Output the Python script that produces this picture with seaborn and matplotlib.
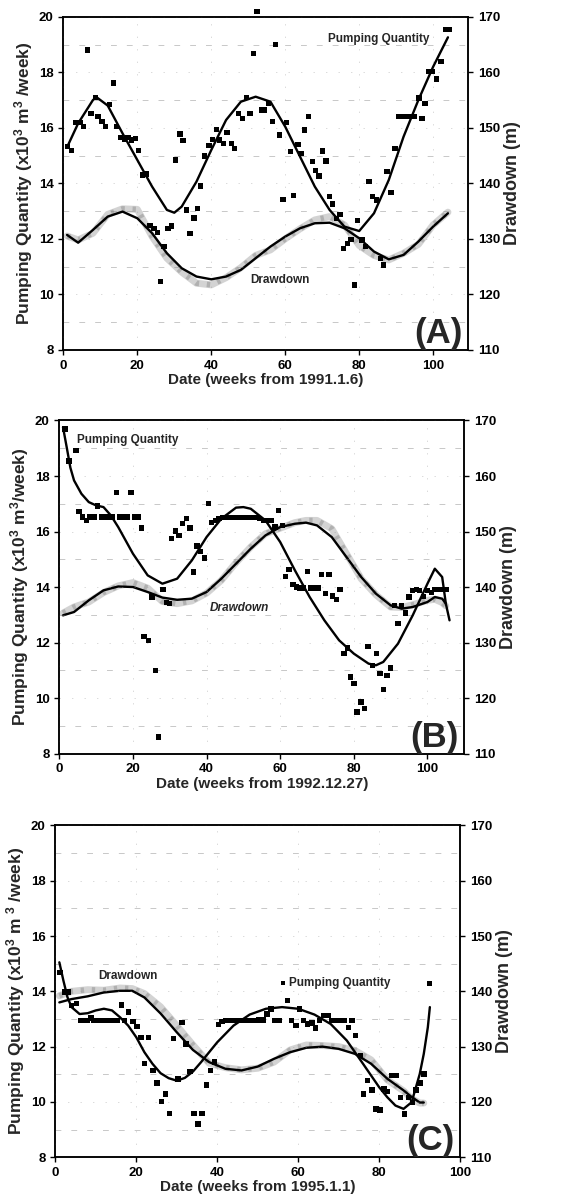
import numpy as np
import pandas as pd
import matplotlib
matplotlib.use("Agg")
import matplotlib.pyplot as plt
import seaborn as sns

sns.set_style("ticks")
plt.rcParams['font.family'] = ['Liberation Sans', 'DejaVu Sans']
plt.rcParams['font.weight'] = 'bold'
plt.rcParams['axes.labelweight'] = 'bold'
plt.rcParams['mathtext.fontset'] = 'custom'
plt.rcParams['mathtext.rm'] = 'Liberation Sans:bold'
plt.rcParams['mathtext.it'] = 'Liberation Sans:bold'
plt.rcParams['mathtext.bf'] = 'Liberation Sans:bold'

# ---------------- Panel A data ----------------
a_weeks = [1.2, 2.2, 3.4, 4.5, 5.4, 6.5, 7.5, 8.7, 9.4, 10.4, 11.4, 12.4, 13.5, 14.4, 15.5, 16.5, 17.5, 18.4, 19.5, 20.4,
           21.4, 22.5, 23.4, 24.5, 25.4, 26.3, 27.2, 28.3, 29.3, 30.4, 31.5, 32.4, 33.3, 34.2, 35.3, 36.3, 37.1, 38.2, 39.4, 40.3,
           41.4, 42.3, 43.3, 44.3, 45.4, 46.3, 47.4, 48.4, 49.5, 50.5, 51.5, 52.4, 53.5, 54.4, 55.5, 56.5, 57.4, 58.5, 59.4, 60.4,
           61.4, 62.3, 63.4, 64.3, 65.2, 66.3, 67.3, 68.2, 69.1, 70.0, 71.0, 71.9, 72.8, 73.9, 74.8, 75.8, 76.9, 77.8, 78.7, 79.6,
           80.8, 81.7, 82.6, 83.6, 84.7, 85.7, 86.5, 87.5, 88.6, 89.7, 90.6, 91.7, 92.8, 93.7, 94.9, 96.2, 97.0, 97.8, 98.9, 99.8,
           100.9, 102.1, 103.4, 104.3]
a_pump = [15.32, 15.18, 16.18, 16.18, 16.04, 18.8, 16.52, 17.1, 16.4, 16.22, 16.04, 16.83, 17.62, 16.04, 15.64, 15.58, 15.64, 15.56, 15.62, 15.18,
          14.3, 14.34, 12.48, 12.37, 12.22, 10.46, 11.72, 12.38, 12.46, 14.84, 15.78, 15.54, 13.04, 12.2, 12.75, 13.1, 13.9, 14.98, 15.36, 15.58,
          15.94, 15.56, 15.44, 15.82, 15.44, 15.26, 16.52, 16.34, 17.1, 16.52, 18.68, 20.18, 16.64, 16.64, 16.88, 16.22, 19.0, 15.74, 13.42, 16.2,
          15.14, 13.56, 15.4, 15.08, 15.92, 16.4, 14.78, 14.46, 14.26, 15.16, 14.8, 13.52, 13.26, 12.74, 12.88, 11.64, 11.84, 11.98, 10.34, 12.66,
          11.96, 11.72, 14.06, 13.52, 13.4, 11.3, 11.06, 14.42, 13.66, 15.26, 16.4, 16.4, 16.4, 16.4, 16.4, 17.08, 16.34, 16.88, 18.02, 18.02,
          17.76, 18.38, 19.54, 19.54]
a_fit_x = [1, 4, 8, 9, 12, 16, 20, 24, 28, 30, 32, 36, 40, 44, 48, 52, 56, 60, 64, 68, 72, 76, 80, 84, 88, 92, 96, 100, 104]
a_fit_pump = [15.3, 16.16, 17.0, 17.1, 16.8, 15.8, 14.84, 13.88, 13.04, 12.94, 13.16, 14.06, 15.2, 16.28, 16.94, 17.12, 16.94, 16.04,
              14.96, 13.88, 13.04, 12.44, 12.28, 12.92, 14.12, 15.68, 17.0, 18.2, 19.26]
a_dd_x = [1, 4, 8, 12, 16, 20, 24, 28, 32, 36, 40, 44, 48, 52, 56, 60, 64, 68, 72, 76, 80, 84, 88, 92, 96, 100, 104]
a_dd_fit = [130.7, 129.3, 131.6, 134.0, 134.9, 133.7, 131.0, 127.4, 124.7, 123.2, 122.7, 123.2, 124.4, 126.5, 128.6, 130.4,
            131.9, 132.8, 132.9, 131.9, 130.1, 127.7, 126.3, 127.1, 129.5, 132.2, 134.6]
a_dd_obs = [130.5, 129.8, 131.0, 134.4, 135.4, 135.3, 130.4, 126.5, 124.0, 122.0, 121.7, 123.0, 124.8, 127.0, 128.0, 130.0,
            131.8, 133.4, 134.0, 132.5, 128.8, 127.0, 126.2, 127.4, 129.0, 132.5, 134.8]

# ---------------- Panel B data ----------------
b_weeks = [1.5, 2.6, 4.5, 5.3, 6.3, 7.4, 8.3, 9.4, 10.4, 11.5, 12.5, 13.5, 14.5, 15.5, 16.5, 17.5, 18.5, 19.5, 20.5, 21.4,
           22.4, 23.0, 24.2, 25.2, 26.2, 26.9, 28.2, 29.1, 30.0, 30.5, 31.5, 32.5, 33.5, 34.5, 35.5, 36.4, 37.4, 38.4, 39.5, 40.5,
           41.4, 42.4, 43.4, 44.4, 45.4, 46.4, 47.4, 48.4, 49.4, 50.4, 51.4, 52.4, 53.4, 54.4, 55.4, 56.6, 57.5, 58.6, 59.5, 60.6,
           61.5, 62.4, 63.5, 64.4, 65.3, 66.4, 67.4, 68.4, 69.4, 70.3, 71.2, 72.3, 73.3, 74.2, 75.3, 76.2, 77.3, 78.2, 79.1, 80.0,
           80.9, 81.9, 82.9, 83.9, 85.1, 86.2, 87.1, 88.0, 89.0, 90.0, 91.0, 92.0, 93.0, 94.1, 95.0, 96.0, 97.1, 97.9, 99.0, 100.0,
           101.1, 102.0, 103.0, 104.1, 105.0]
b_pump = [19.7, 18.54, 18.92, 16.72, 16.52, 16.4, 16.52, 16.52, 16.92, 16.52, 16.52, 16.52, 16.52, 17.4, 16.52, 16.52, 16.52, 17.4, 16.52, 16.52,
          16.12, 12.22, 12.08, 13.64, 11.0, 8.6, 13.92, 13.44, 13.4, 15.74, 16.02, 15.86, 16.28, 16.48, 16.12, 14.54, 15.48, 15.28, 15.04, 17.0,
          16.32, 16.4, 16.48, 16.5, 16.5, 16.5, 16.5, 16.5, 16.5, 16.5, 16.5, 16.5, 16.5, 16.46, 16.4, 16.4, 16.4, 16.16, 16.76, 16.22,
          14.38, 14.64, 14.08, 14.0, 13.96, 13.96, 14.56, 13.96, 13.96, 13.96, 14.46, 13.76, 14.46, 13.68, 13.56, 13.9, 11.6, 11.8, 10.76, 10.52,
          9.5, 9.86, 9.62, 11.86, 11.18, 11.6, 10.88, 10.3, 10.82, 11.08, 13.34, 12.68, 13.32, 13.06, 13.64, 13.88, 13.9, 13.88, 13.66, 13.88,
          13.8, 13.9, 13.9, 13.9, 13.9]
b_fit_x = [1, 2, 3, 4, 6, 8, 10, 12, 14, 16, 20, 24, 28, 32, 36, 40, 44, 48, 50, 52, 56, 60, 64, 68, 72, 76, 80, 84, 86, 88,
           92, 96, 100, 102, 104, 105, 106]
b_fit_pump = [19.76, 19.04, 18.3, 17.84, 17.36, 17.06, 16.94, 16.88, 16.58, 16.16, 15.2, 14.42, 14.12, 14.3, 14.96, 15.8, 16.46, 16.86,
              16.88, 16.82, 16.4, 15.62, 14.6, 13.64, 12.8, 12.08, 11.6, 11.24, 11.18, 11.3, 11.96, 12.98, 14.12, 14.66, 14.36, 13.4, 12.8]
b_dd_x = [1, 4, 8, 12, 16, 20, 24, 28, 32, 36, 40, 44, 48, 52, 56, 60, 64, 67, 70, 74, 78, 82, 86, 90, 93, 96, 100, 102, 104, 105]
b_dd_fit = [134.9, 135.5, 137.6, 139.4, 140.1, 140.0, 139.1, 138.1, 137.7, 137.9, 139.1, 141.5, 144.2, 146.9, 149.3, 150.8, 151.4,
            151.6, 151.1, 149.0, 145.4, 141.8, 138.8, 136.7, 136.1, 136.4, 137.3, 138.2, 137.9, 137.0]
b_dd_obs = [135.3, 136.4, 137.3, 139.0, 140.2, 140.8, 139.8, 137.4, 137.0, 137.5, 138.9, 141.2, 144.4, 147.2, 149.6, 150.6, 151.6,
            152.0, 152.0, 150.5, 146.0, 141.5, 138.6, 136.4, 136.3, 136.8, 137.6, 137.8, 137.2, 136.6]

# ---------------- Panel C data ----------------
c_weeks = [1.2, 2.2, 3.1, 4.0, 5.2, 6.2, 7.2, 8.0, 8.8, 9.6, 10.7, 11.5, 12.4, 13.4, 14.4, 15.2, 16.3, 17.1, 18.1, 19.2,
           20.2, 21.2, 22.1, 23.0, 24.1, 25.1, 26.2, 27.2, 28.2, 29.2, 30.3, 31.3, 32.3, 33.3, 34.3, 35.2, 36.2, 37.3, 38.3, 39.3,
           40.3, 41.2, 42.2, 43.2, 44.2, 45.2, 46.2, 47.2, 48.2, 49.2, 50.2, 51.3, 52.3, 53.3, 54.3, 55.4, 57.4, 58.4, 59.4, 60.3,
           61.3, 62.3, 63.4, 64.3, 65.3, 66.3, 67.3, 68.3, 69.3, 70.4, 71.4, 72.4, 73.3, 74.2, 75.3, 76.1, 77.1, 78.2, 79.2, 80.2,
           81.2, 82.1, 83.1, 84.1, 85.2, 86.2, 87.2, 88.2, 89.1, 90.1, 91.1, 92.4]
c_pump = [14.69, 13.97, 13.97, 13.49, 13.57, 12.94, 12.94, 12.94, 13.04, 12.94, 12.94, 12.94, 12.94, 12.94, 12.94, 12.94, 13.51, 12.94, 13.25, 12.91,
          12.73, 12.34, 11.4, 12.34, 11.13, 10.68, 10.01, 10.29, 9.59, 12.3, 10.83, 12.88, 12.1, 11.1, 9.59, 9.2, 9.59, 10.62, 11.13, 11.44,
          12.8, 12.92, 12.94, 12.94, 12.94, 12.94, 12.94, 12.94, 12.94, 12.94, 12.97, 12.97, 13.18, 13.36, 12.94, 12.94, 13.67, 12.94, 12.76, 13.36,
          12.94, 12.82, 12.85, 12.68, 12.94, 13.12, 13.12, 12.94, 12.94, 12.94, 12.94, 12.7, 12.94, 12.4, 11.68, 10.29, 10.77, 10.43, 9.75, 9.71,
          10.47, 10.37, 10.95, 10.95, 10.17, 9.57, 10.17, 9.99, 10.43, 10.68, 11.01, 14.29]
c_fit_x = [1, 2, 3, 4, 6, 8, 10, 12, 14, 16, 18, 20, 22, 24, 26, 28, 30, 32, 34, 36, 38, 40, 44, 48, 52, 56, 60, 64, 68, 72,
           76, 80, 82, 84, 86, 88, 90, 91, 92, 92.5]
c_fit_pump = [15.05, 14.39, 13.79, 13.43, 13.18, 13.21, 13.31, 13.37, 13.31, 13.06, 12.76, 12.34, 11.8, 11.38, 11.04, 10.86, 10.77,
              10.87, 11.1, 11.44, 11.8, 12.16, 12.76, 13.16, 13.37, 13.43, 13.37, 13.16, 12.82, 12.22, 11.38, 10.53, 10.17, 9.87,
              9.75, 9.99, 11.01, 11.74, 12.7, 13.43]
c_dd_x = [1, 4, 8, 12, 16, 19, 22, 26, 30, 34, 38, 42, 46, 50, 54, 58, 62, 66, 70, 74, 78, 82, 86, 88, 90, 91]
c_dd_fit = [138.0, 138.6, 139.1, 139.8, 140.1, 140.1, 138.9, 136.0, 132.6, 129.4, 127.2, 126.0, 125.7, 126.4, 127.8, 129.0,
            129.8, 130.0, 129.6, 128.7, 126.9, 124.2, 122.1, 120.9, 119.9, 119.9]
c_dd_obs = [139.2, 140.0, 140.3, 140.2, 140.6, 140.5, 139.6, 137.2, 133.8, 130.3, 127.0, 126.2, 125.8, 126.1, 127.2, 129.4,
            130.3, 130.2, 130.0, 129.3, 127.6, 124.0, 122.0, 120.6, 119.8, 119.8]

panels = [
    dict(rect=[0.110, 0.708, 0.703, 0.278], weeks=a_weeks, pump=a_pump, fx=a_fit_x, fp=a_fit_pump,
         dx=a_dd_x, dfit=a_dd_fit, dobs=a_dd_obs, xmax=109.5, xticks=[0, 20, 40, 60, 80, 100],
         xlabel='Date (weeks from 1991.1.6)', ylabel='Pumping Quantity (x10$^{3}$ m$^{3}$ /week)', tag='(A)'),
    dict(rect=[0.103, 0.371, 0.703, 0.278], weeks=b_weeks, pump=b_pump, fx=b_fit_x, fp=b_fit_pump,
         dx=b_dd_x, dfit=b_dd_fit, dobs=b_dd_obs, xmax=110, xticks=[0, 20, 40, 60, 80, 100],
         xlabel='Date (weeks from 1992.12.27)', ylabel='Pumping Quantity (x10$^{3}$ m$^{3}$/week)', tag='(B)'),
    dict(rect=[0.096, 0.034, 0.703, 0.277], weeks=c_weeks, pump=c_pump, fx=c_fit_x, fp=c_fit_pump,
         dx=c_dd_x, dfit=c_dd_fit, dobs=c_dd_obs, xmax=100, xticks=[0, 20, 40, 60, 80, 100],
         xlabel='Date (weeks from 1995.1.1)', ylabel='Pumping Quantity (x10$^{3}$ m $^{3}$ /week)', tag='(C)'),
]

fig = plt.figure(figsize=(5.76, 11.98), dpi=100)

axes = []
for p in panels:
    ax = fig.add_axes(p['rect'])
    ax2 = ax.twinx()
    ax.set_zorder(ax2.get_zorder() + 1)
    ax.patch.set_visible(False)

    # drawdown: observed (grey band) and fitted curve
    sns.lineplot(x=p['dx'], y=p['dobs'], ax=ax2, color='#cfcfcf', lw=5, alpha=0.9,
                 estimator=None, legend=False)
    sns.lineplot(x=p['dx'], y=p['dobs'], ax=ax2, color='#9a9a9a', lw=4, ls=(0, (0.6, 1.4)),
                 alpha=0.6, estimator=None, legend=False)
    sns.lineplot(x=p['dx'], y=p['dfit'], ax=ax2, color='black', lw=1.7,
                 estimator=None, legend=False)
    # pumping: observed squares and fitted curve
    sns.lineplot(x=p['fx'], y=p['fp'], ax=ax, color='black', lw=1.7,
                 estimator=None, legend=False)
    sns.scatterplot(x=p['weeks'], y=p['pump'], ax=ax, marker='s', s=15, color='black',
                    edgecolor='none', legend=False, clip_on=False, zorder=5)

    ax.set_xlim(0, p['xmax'])
    ax.set_ylim(8, 20)
    ax2.set_ylim(110, 170)
    ax.set_xticks(p['xticks'])
    ax.set_yticks(np.arange(8, 21, 2))
    ax2.set_yticks(np.arange(110, 171, 10))

    # faint scanned-style grid
    ax.set_yticks(np.arange(9, 20, 2), minor=True)
    ax.grid(which='minor', axis='y', color='0.5', lw=0.6, ls=(0, (7, 12)), alpha=0.5)
    ax.grid(which='major', axis='y', color='0.6', lw=0.5, ls=(0, (2, 16)), alpha=0.5)
    ax.grid(which='major', axis='x', color='0.6', lw=0.5, ls=(0, (2, 16)), alpha=0.5)
    ax.tick_params(which='minor', length=0)

    for a in (ax, ax2):
        for s in a.spines.values():
            s.set_linewidth(1.1)
            s.set_color('black')
        a.tick_params(which='major', direction='out', length=3.5, width=1, labelsize=9.5, colors='black')

    ax.set_xlabel(p['xlabel'], fontsize=11, fontweight='bold', labelpad=1)
    ax.set_ylabel(p['ylabel'], fontsize=12.5, fontweight='bold', labelpad=3)
    ax2.set_ylabel('Drawdown (m)', fontsize=13, fontweight='bold', labelpad=3)
    for lbl in ax.get_xticklabels() + ax.get_yticklabels() + ax2.get_yticklabels():
        lbl.set_fontweight('bold')

    ax.text(0.985, 0.0, p['tag'], transform=ax.transAxes, ha='right', va='bottom',
            fontsize=25, fontweight='bold')
    axes.append(ax)

# annotations
axA, axB, axC = axes
axA.text(71.5, 19.2, 'Pumping Quantity', fontsize=8.5, fontweight='bold', ha='left', va='center')
axA.text(50.5, 10.5, 'Drawdown', fontsize=8.5, fontweight='bold', ha='left', va='center')
axB.text(4.7, 19.28, 'Pumping Quantity', fontsize=8.5, fontweight='bold', ha='left', va='center')
axB.text(41, 13.26, 'Drawdown', fontsize=8.5, fontweight='bold', style='italic', ha='left', va='center')
axC.text(10.7, 14.57, 'Drawdown', fontsize=8.5, fontweight='bold', ha='left', va='center')
sns.scatterplot(x=[56.2], y=[14.29], ax=axC, marker='s', s=8, color='black', edgecolor='none', legend=False)
axC.text(57.6, 14.29, 'Pumping Quantity', fontsize=8.5, fontweight='bold', ha='left', va='center')

fig.savefig('out.png', dpi=100)
